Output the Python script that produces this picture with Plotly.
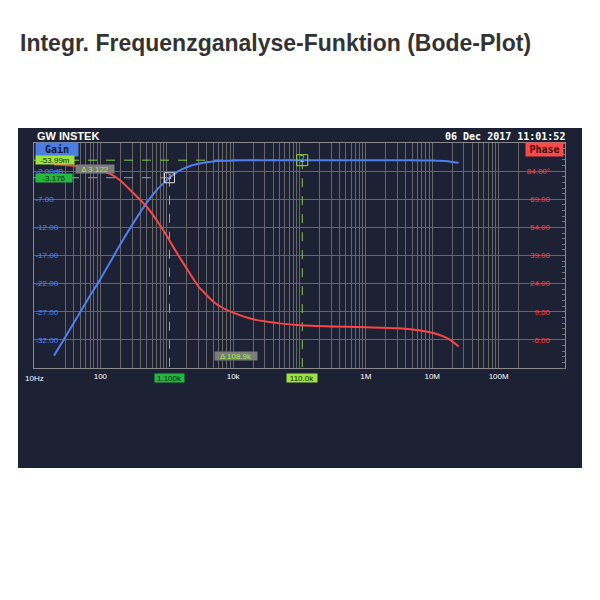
import math
import plotly.graph_objects as go

# ---------------- data ----------------
gain_freq = [20, 30, 50, 70, 100, 150, 200, 300, 500, 700, 1000, 1100, 1500, 2000,
             3000, 5000, 7000, 10000, 20000, 50000, 110000, 200000, 500000, 1e6,
             2e6, 5e6, 1e7, 1.5e7, 2e7, 2.5e7]
gain_db = [-34.8, -31.4, -27.0, -24.1, -21.2, -17.6, -15.0, -11.6, -7.6, -5.4, -3.6,
           -3.176, -2.0, -1.3, -0.7, -0.3, -0.17, -0.11, -0.07, -0.06, -0.054, -0.05,
           -0.05, -0.05, -0.06, -0.08, -0.12, -0.22, -0.36, -0.52]

phase_freq = [20, 30, 50, 100, 150, 200, 300, 500, 700, 1000, 1100, 1500, 2000, 3000,
              5000, 7000, 10000, 20000, 50000, 100000, 300000, 1e6, 3e6, 5e6, 1e7,
              1.5e7, 2e7, 2.5e7]
phase_deg = [87.5, 87.3, 86.5, 84.5, 82.0, 79.0, 73.0, 65.0, 58.0, 49.5, 47.0, 39.0,
             32.0, 22.5, 14.5, 11.0, 8.5, 5.0, 2.8, 1.8, 1.2, 0.8, 0.2, -0.5, -2.2,
             -4.3, -6.8, -9.5]

gain_ticks = [-32, -27, -22, -17, -12, -7, -2]
gain_ticktext = ["-32.00", "-27.00", "-22.00", "-17.00", "-12.00", "-7.00", "-2.00dB"]
phase_ticks = [-6, 9, 24, 39, 54, 69, 84]
phase_ticktext = ["-6.00", "9.00", "24.00", "39.00", "54.00", "69.00", "84.00°"]

decade_vals = [10, 100, 1000, 10000, 100000, 1e6, 1e7, 1e8]
decade_text = ["10Hz", "100", "", "10k", "", "1M", "10M", "100M"]

marker1_freq, marker1_gain = 1100, -3.176
marker2_freq, marker2_gain = 110000, -0.05399
marker1_label, marker2_label = "1.100k", "110.0k"
marker1_value, marker2_value = "-3.176", "-53.99m"
delta_gain_text = "Δ 3.122"
delta_freq_text = "Δ 108.9k"

title_text = "Integr. Frequenzganalyse-Funktion (Bode-Plot)"
logo_text = "GW INSTEK"
date_text = "06 Dec 2017 11:01:52"

# ---------------- styling ----------------
W = H = 600
OFF = 8  # the page body margin shifts the figure by 8 px; compensate

def px(x):
    return (x - OFF) / W

def py(y):
    return 1 - (y - OFF) / H

GAIN_RANGE = [-37, 3]
PHASE_RANGE = [-21, 99]
BLUE = "#4f7ef2"
RED = "#ff4444"
LGREEN = "#9be43c"
DGREEN = "#22b83c"
GRID = "#666666"
NAVY = "#1c2134"
MONO = "DejaVu Sans Mono"
SANS = "Liberation Sans"

# all gridline positions on the log axis (1..9 x decade)
x_tickvals, x_ticktext = [], []
for d in range(1, 9):
    for m in range(1, 10):
        v = m * 10 ** d
        x_tickvals.append(v)
        if m == 1 and d > 1:
            x_ticktext.append(decade_text[decade_vals.index(v)])
        else:
            x_ticktext.append("")
x_tickvals.append(1e9)
x_ticktext.append("")

fig = go.Figure()

# marker dashed lines
fig.add_trace(go.Scatter(x=[10, marker2_freq], y=[marker2_gain, marker2_gain], mode="lines",
                         line=dict(color="#7fcf38", width=1, dash="dash"), hoverinfo="skip"))
fig.add_trace(go.Scatter(x=[marker2_freq, marker2_freq], y=[marker2_gain, GAIN_RANGE[0]], mode="lines",
                         line=dict(color="#7fcf38", width=1, dash="dash"), hoverinfo="skip"))
fig.add_trace(go.Scatter(x=[10, marker1_freq], y=[marker1_gain, marker1_gain], mode="lines",
                         line=dict(color="#a0a0a0", width=1, dash="dash"), hoverinfo="skip"))
fig.add_trace(go.Scatter(x=[marker1_freq, marker1_freq], y=[marker1_gain, GAIN_RANGE[0]], mode="lines",
                         line=dict(color="#a0a0a0", width=1, dash="dash"), hoverinfo="skip"))

# curves
fig.add_trace(go.Scatter(x=gain_freq, y=gain_db, mode="lines", name="Gain",
                         line=dict(color=BLUE, width=2, shape="spline", smoothing=0.5)))
fig.add_trace(go.Scatter(x=phase_freq, y=phase_deg, mode="lines", name="Phase", yaxis="y2",
                         line=dict(color=RED, width=2, shape="spline", smoothing=0.5)))

# marker squares
fig.add_trace(go.Scatter(x=[marker1_freq], y=[marker1_gain], mode="markers+text", text=["1"],
                         textposition="middle center", textfont=dict(color="#dddddd", size=7, family=MONO),
                         marker=dict(symbol="square-open", size=10, color="#dddddd", line=dict(width=1))))
fig.add_trace(go.Scatter(x=[marker2_freq], y=[marker2_gain], mode="markers+text", text=["2"],
                         textposition="middle center", textfont=dict(color="#8fdc3a", size=8, family=MONO),
                         marker=dict(symbol="square-open", size=11, color="#8fdc3a", line=dict(width=1))))

ann = []
ann.append(dict(xref="paper", yref="paper", x=px(18), y=py(43), xanchor="left", yanchor="middle",
                text="<b>" + title_text + "</b>", showarrow=False,
                font=dict(family=SANS, size=23, color="#333333")))
ann.append(dict(xref="paper", yref="paper", x=px(35), y=py(136), xanchor="left", yanchor="middle",
                text="<b>" + logo_text + "</b>", showarrow=False,
                font=dict(family=SANS, size=11, color="white")))
ann.append(dict(xref="paper", yref="paper", x=px(567), y=py(137), xanchor="right", yanchor="middle",
                text="<b>" + date_text + "</b>", showarrow=False,
                font=dict(family=MONO, size=10, color="white")))
ann.append(dict(xref="paper", yref="paper", x=px(35), y=py(149), xanchor="left", yanchor="middle",
                text="<b>Gain</b>", showarrow=False, bgcolor="#4a7ee0", width=40, height=11,
                borderpad=1, font=dict(family=MONO, size=10, color="#101830")))
ann.append(dict(xref="paper", yref="paper", x=px(564), y=py(149.5), xanchor="right", yanchor="middle",
                text="<b>Phase</b>", showarrow=False, bgcolor="#ff4848", width=35, height=11,
                borderpad=1, font=dict(family=MONO, size=10, color="#301010")))
ann.append(dict(xref="paper", yref="y", x=px(35), y=marker2_gain, xanchor="left", yanchor="middle",
                text=marker2_value, showarrow=False, bgcolor=LGREEN, width=38, height=8,
                borderpad=0, font=dict(family=SANS, size=8, color="#1a2a10")))
ann.append(dict(xref="paper", yref="y", x=px(35), y=marker1_gain, xanchor="left", yanchor="middle",
                text=marker1_value, showarrow=False, bgcolor=DGREEN, width=36, height=8,
                borderpad=0, font=dict(family=SANS, size=8, color="#102a10")))
ann.append(dict(xref="paper", yref="y", x=px(75), y=(marker1_gain + marker2_gain) / 2,
                xanchor="left", yanchor="middle", text=delta_gain_text, showarrow=False,
                bgcolor="#7c7c7c", width=38, height=8, borderpad=0,
                font=dict(family=SANS, size=8, color="#9cf040")))
mid_log = (math.log10(marker1_freq) + math.log10(marker2_freq)) / 2
ann.append(dict(xref="x", yref="paper", x=mid_log, y=py(356), xanchor="center", yanchor="middle",
                text=delta_freq_text, showarrow=False, bgcolor="#7c7c7c", width=42, height=8,
                borderpad=0, font=dict(family=SANS, size=8, color="#9cf040")))
ann.append(dict(xref="x", yref="paper", x=math.log10(marker1_freq), y=py(377.5), xanchor="center",
                yanchor="middle", text=marker1_label, showarrow=False, bgcolor=DGREEN, width=29,
                height=8, borderpad=0, font=dict(family=SANS, size=8, color="#0c240c")))
ann.append(dict(xref="x", yref="paper", x=math.log10(marker2_freq), y=py(377.5), xanchor="center",
                yanchor="middle", text=marker2_label, showarrow=False, bgcolor=LGREEN, width=30,
                height=8, borderpad=0, font=dict(family=SANS, size=8, color="#1a2a10")))
# first decade label at the very left edge of the log axis
ann.append(dict(xref="x", yref="paper", x=math.log10(decade_vals[0]), y=py(378), xanchor="center",
                yanchor="middle", text=decade_text[0], showarrow=False,
                font=dict(family=SANS, size=8, color="white")))

fig.update_layout(
    width=W, height=H, autosize=False,
    margin=dict(l=0, r=0, t=0, b=0),
    paper_bgcolor="white", plot_bgcolor="black", showlegend=False,
    shapes=[dict(type="rect", xref="paper", yref="paper", x0=px(18), x1=px(582),
                 y0=py(468), y1=py(128), fillcolor=NAVY, line=dict(width=0), layer="below")],
    annotations=ann,
    xaxis=dict(type="log", range=[1, 9], domain=[px(34), px(565)],
               tickmode="array", tickvals=x_tickvals, ticktext=x_ticktext,
               showgrid=True, gridcolor=GRID, gridwidth=1, zeroline=False,
               showline=True, linecolor="#8a8a8a", mirror=True, ticks="",
               tickfont=dict(family=SANS, size=8, color="white")),
    yaxis=dict(range=GAIN_RANGE, domain=[py(368), py(143)],
               tickmode="array", tickvals=gain_ticks, ticktext=gain_ticktext,
               ticklabelposition="inside", ticks="",
               showgrid=True, gridcolor=GRID, gridwidth=1, zeroline=False,
               showline=True, linecolor="#8a8a8a", mirror=True,
               tickfont=dict(family=SANS, size=8, color="#4f86ff")),
    yaxis2=dict(range=PHASE_RANGE, overlaying="y", side="right",
                tickmode="array", tickvals=phase_ticks, ticktext=phase_ticktext,
                ticklabelposition="inside", ticklabelstandoff=12, ticks="",
                showgrid=False, zeroline=False, showline=False,
                tickfont=dict(family=SANS, size=8, color="#ff4040"),
                minor=dict(ticks="inside", ticklen=3, tickmode="linear", tick0=-21, dtick=3,
                           tickcolor="#777777", showgrid=False)),
)

fig.write_html("out.html", config={"displayModeBar": False})
